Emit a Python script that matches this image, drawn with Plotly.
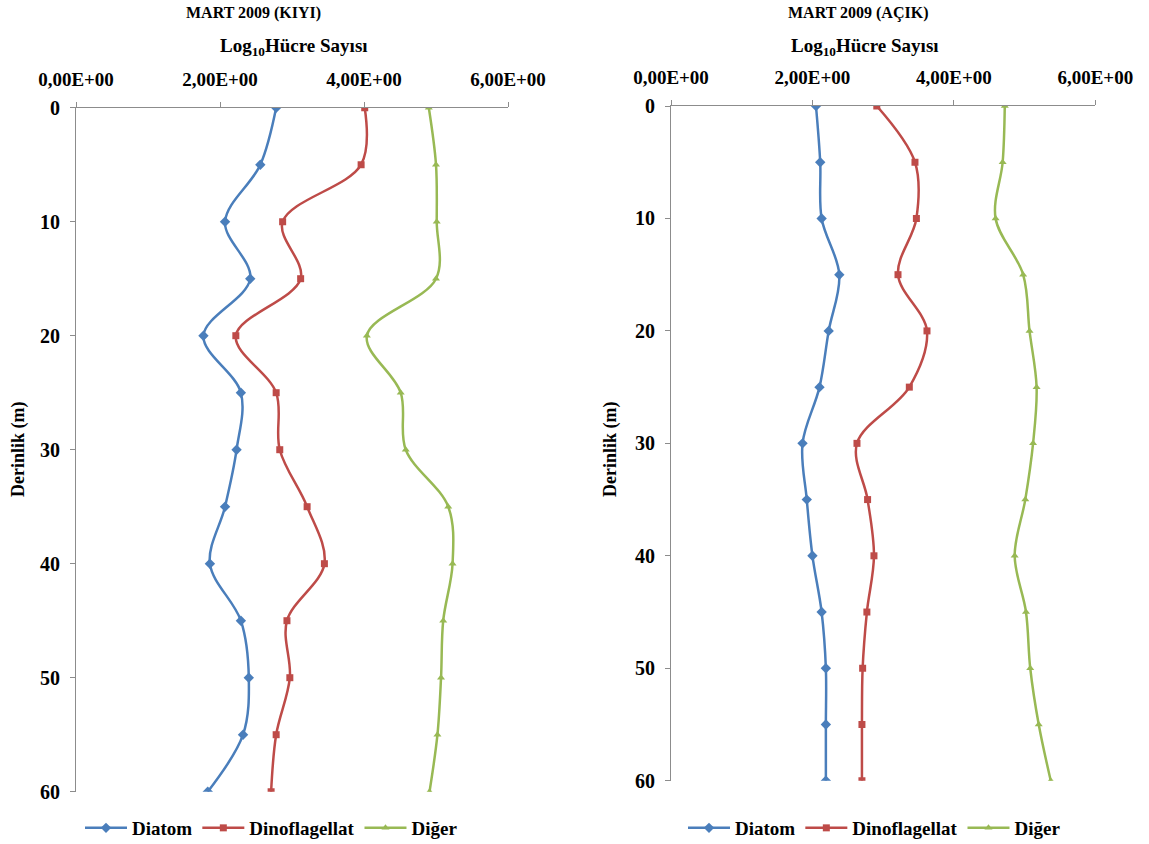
import plotly.graph_objects as go

depth = [0, 5, 10, 15, 20, 25, 30, 35, 40, 45, 50, 55, 60]

# MART 2009 (KIYI)
kiyi_diatom = [2.78, 2.56, 2.07, 2.42, 1.77, 2.29, 2.23, 2.07, 1.86, 2.29, 2.40, 2.32, 1.83]
kiyi_dino = [4.01, 3.96, 2.87, 3.12, 2.22, 2.78, 2.83, 3.21, 3.45, 2.93, 2.97, 2.78, 2.71]
kiyi_diger = [4.90, 5.00, 5.01, 5.00, 4.04, 4.51, 4.58, 5.17, 5.23, 5.10, 5.07, 5.02, 4.91]

# MART 2009 (AÇIK)
acik_diatom = [2.05, 2.11, 2.13, 2.38, 2.23, 2.10, 1.86, 1.92, 2.00, 2.13, 2.19, 2.19, 2.19]
acik_dino = [2.91, 3.45, 3.47, 3.21, 3.62, 3.37, 2.63, 2.78, 2.87, 2.77, 2.71, 2.70, 2.70]
acik_diger = [4.72, 4.69, 4.59, 4.98, 5.07, 5.17, 5.12, 5.01, 4.86, 5.02, 5.08, 5.20, 5.37]

x_tickvals = [0, 2, 4, 6]
x_ticktext = ["0,00E+00", "2,00E+00", "4,00E+00", "6,00E+00"]
y_tickvals = [0, 10, 20, 30, 40, 50, 60]

series_names = ["Diatom", "Dinoflagellat", "Diğer"]
colors = ["#4A7EBB", "#BE4B48", "#98B954"]
symbols = ["diamond", "square", "triangle-up"]
marker_sizes = [8, 7, 7]

FONT = "Liberation Serif, Times New Roman, serif"
W, H = 1149, 844

def px(xp):
    return xp / W

def py(yp):
    return 1 - yp / H

fig = go.Figure()

panels = [
    dict(data=[kiyi_diatom, kiyi_dino, kiyi_diger], xa="x", ya="y", legend="legend"),
    dict(data=[acik_diatom, acik_dino, acik_diger], xa="x2", ya="y2", legend="legend2"),
]

for p in panels:
    for name, vals, c, s, ms in zip(series_names, p["data"], colors, symbols, marker_sizes):
        fig.add_trace(go.Scatter(
            x=vals, y=depth, name=name, mode="lines+markers",
            line=dict(color=c, width=2.5, shape="spline", smoothing=1.0),
            marker=dict(symbol=s, size=ms, color=c),
            xaxis=p["xa"], yaxis=p["ya"], legend=p["legend"],
        ))

axis_common = dict(
    showgrid=False, zeroline=False, showline=True, linecolor="#8C8C8C", linewidth=1,
    ticks="outside", ticklen=5, tickcolor="#8C8C8C", automargin=False,
)
xfont = dict(family=FONT, size=19, color="black", weight="bold")
yfont = dict(family=FONT, size=20, color="black", weight="bold")

legend_common = dict(orientation="h", xanchor="left", yanchor="middle",
                     font=dict(family=FONT, size=19, color="black", weight="bold"),
                     bgcolor="rgba(0,0,0,0)", itemwidth=42, tracegroupgap=0)

fig.update_layout(
    width=W, height=H,
    margin=dict(l=0, r=0, t=0, b=0, autoexpand=False),
    paper_bgcolor="white", plot_bgcolor="white",
    font=dict(family=FONT, color="black"),
    showlegend=True,
    xaxis=dict(domain=[px(76), px(508)], range=[0, 6], side="top", anchor="y",
               tickvals=x_tickvals, ticktext=x_ticktext, tickfont=xfont,
               ticklabelstandoff=8, **axis_common),
    yaxis=dict(domain=[py(791.7), py(107.7)], range=[60, 0], anchor="x",
               tickvals=y_tickvals, tickfont=yfont, ticklabelstandoff=6, **axis_common),
    xaxis2=dict(domain=[px(671), px(1095.3)], range=[0, 6], side="top", anchor="y2",
                tickvals=x_tickvals, ticktext=x_ticktext, tickfont=xfont,
                ticklabelstandoff=8, **axis_common),
    yaxis2=dict(domain=[py(780.7), py(106)], range=[60, 0], anchor="x2",
                tickvals=y_tickvals, tickfont=yfont, ticklabelstandoff=6, **axis_common),
    legend=dict(x=px(80), y=py(828), **legend_common),
    legend2=dict(x=px(683), y=py(828), **legend_common),
)

def ann(text, x, y, size, angle=0):
    fig.add_annotation(text=text, x=px(x), y=py(y), xref="paper", yref="paper",
                       showarrow=False, textangle=angle, xanchor="center", yanchor="middle",
                       font=dict(family=FONT, size=size, color="black", weight="bold"))

ann("MART 2009 (KIYI)", 253, 13, 16)
ann("Log<sub>10</sub>Hücre Sayısı", 294, 47, 19)
ann("Derinlik (m)", 18, 450, 18, -90)
ann("MART 2009 (AÇIK)", 858, 13, 16)
ann("Log<sub>10</sub>Hücre Sayısı", 865, 47, 19)
ann("Derinlik (m)", 610, 450, 18, -90)

fig.write_html("out.html")
